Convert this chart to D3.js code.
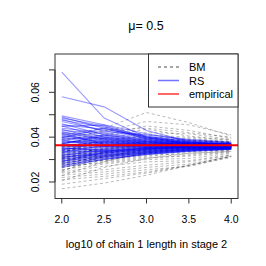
<!DOCTYPE html>
<html>
<head>
<meta charset="utf-8">
<script src="https://cdn.jsdelivr.net/npm/d3@7"></script>
<style>
  body { margin: 0; background: #fff; }
  text { font-family: "Liberation Sans", Arial, sans-serif; fill: #000; }
</style>
</head>
<body>
<div id="chart"></div>
<script>
// log10 of chain 1 length
const xs = [2.0, 2.5, 3.0, 3.5, 4.0];
const xTicks = [2.0, 2.5, 3.0, 3.5, 4.0];
const yTicks = [0.02, 0.03, 0.04, 0.05, 0.06, 0.07];
const yLabels = [0.02, 0.04, 0.06];
const empirical = 0.0364;

// estimates (x 1e-3), one row per replicate
const bmRuns = [
  [41.0, 44.0, 51.0, 46.5, 40.5], [40.0, 42.5, 47.0, 45.5, 41.0], [39.0, 41.0, 45.0, 43.0, 39.5],
  [38.0, 43.0, 44.0, 42.0, 40.0], [37.5, 39.5, 42.0, 41.5, 39.0], [37.0, 40.5, 43.5, 40.5, 38.5],
  [36.0, 38.0, 41.0, 40.0, 38.8], [35.5, 39.0, 40.0, 39.5, 38.0], [35.0, 37.0, 39.5, 38.5, 37.8],
  [34.5, 36.5, 38.5, 39.0, 37.5], [34.0, 35.5, 37.5, 38.0, 37.2], [33.5, 37.5, 38.0, 37.0, 36.8],
  [33.0, 34.5, 36.5, 37.5, 36.5], [32.5, 35.0, 37.0, 36.5, 36.2], [32.0, 33.5, 35.5, 36.0, 36.0],
  [31.5, 34.0, 36.0, 35.5, 35.8], [31.0, 32.5, 34.5, 35.8, 35.5], [30.5, 33.0, 35.0, 34.8, 35.2],
  [30.0, 31.5, 33.5, 34.5, 35.0], [29.5, 32.0, 34.0, 34.0, 34.8], [29.0, 30.5, 32.5, 33.5, 34.5],
  [28.5, 31.0, 33.0, 33.8, 34.2], [28.0, 29.5, 31.5, 33.0, 34.0], [27.5, 30.0, 32.0, 32.5, 33.8],
  [27.0, 28.5, 30.5, 32.0, 33.5], [26.5, 29.0, 31.0, 31.5, 33.2], [26.2, 31.5, 33.8, 35.6, 36.1],
  [25.5, 28.0, 30.0, 30.5, 32.8], [25.2, 30.0, 32.6, 34.2, 35.3], [24.5, 27.0, 29.0, 29.5, 32.2],
  [24.0, 25.5, 27.5, 29.0, 32.0], [31.2, 33.4, 36.4, 36.9, 37.4], [23.0, 24.5, 26.5, 28.0, 31.5],
  [29.8, 32.6, 35.4, 36.3, 36.6], [22.0, 23.5, 25.5, 27.0, 31.0], [33.8, 36.2, 37.8, 38.4, 37.9],
  [21.0, 22.5, 24.5, 27.5, 31.5], [27.8, 31.8, 33.6, 35.0, 35.7], [19.0, 21.5, 24.0, 27.2, 31.3],
  [30.6, 29.4, 32.8, 34.8, 35.9], [17.0, 19.5, 23.0, 27.5, 31.6], [30.2, 36.0, 38.0, 37.0, 36.4],
  [28.8, 34.5, 36.5, 36.8, 36.0], [26.8, 33.0, 35.5, 36.2, 35.6], [24.8, 31.5, 34.5, 35.2, 35.4],
  [22.8, 29.0, 33.5, 34.5, 34.6], [36.5, 33.0, 34.0, 35.0, 35.6], [34.8, 31.0, 33.2, 34.6, 35.4],
  [32.8, 39.5, 37.0, 37.8, 36.6], [20.5, 26.5, 30.5, 32.8, 33.6], [32.2, 34.8, 36.8, 37.2, 36.9],
  [28.2, 33.6, 34.2, 36.0, 36.3], [35.8, 37.8, 39.2, 37.6, 37.1], [31.6, 30.8, 34.6, 35.4, 35.1]
];

const rsRuns = [
  [69.0, 48.5, 40.0, 37.0, 36.0], [58.0, 53.5, 43.0, 38.0, 36.5], [49.5, 45.5, 41.5, 38.5, 37.5],
  [49.0, 44.0, 40.0, 38.0, 37.0], [48.5, 45.0, 39.0, 37.5, 36.8], [48.0, 42.5, 41.0, 39.0, 37.8],
  [47.5, 44.5, 40.5, 37.8, 36.4], [47.0, 43.0, 39.5, 38.2, 37.2], [46.0, 41.0, 38.5, 37.0, 36.6],
  [45.5, 43.5, 40.2, 38.6, 37.4], [45.0, 40.0, 38.0, 36.5, 36.2], [44.0, 42.0, 39.0, 37.2, 36.9],
  [43.5, 39.0, 37.5, 36.8, 36.0], [43.0, 41.5, 38.8, 37.6, 37.0], [42.5, 38.5, 37.0, 36.2, 35.8],
  [42.0, 40.5, 38.2, 37.4, 36.7], [41.5, 39.5, 37.8, 36.9, 36.3], [41.0, 37.5, 36.5, 36.0, 35.9],
  [40.5, 39.0, 37.2, 36.6, 36.5], [40.0, 38.0, 36.8, 36.4, 36.1], [39.5, 37.0, 36.0, 35.8, 35.6],
  [39.0, 40.0, 38.0, 37.0, 36.6], [38.5, 36.5, 35.5, 35.5, 35.4], [38.0, 37.5, 36.6, 36.2, 36.0],
  [37.5, 38.5, 37.4, 36.8, 36.4], [37.0, 36.0, 35.8, 35.9, 35.8], [36.5, 37.0, 36.2, 36.0, 36.2],
  [36.0, 35.5, 35.2, 35.4, 35.5], [35.5, 36.5, 36.0, 36.3, 36.3], [35.0, 34.5, 34.8, 35.2, 35.3],
  [34.5, 35.8, 35.6, 35.8, 35.9], [34.0, 33.5, 34.2, 34.8, 35.1], [33.5, 35.0, 35.4, 35.6, 35.7],
  [33.0, 34.0, 34.5, 35.0, 35.2], [32.5, 32.5, 33.8, 34.6, 35.0], [32.0, 33.8, 34.9, 35.5, 35.6],
  [31.5, 32.0, 33.5, 34.4, 34.9], [31.0, 33.0, 34.0, 34.9, 35.3], [30.5, 31.5, 33.0, 34.2, 34.8],
  [30.0, 32.8, 34.4, 35.3, 35.6], [29.5, 31.0, 32.8, 34.0, 34.7], [29.0, 32.2, 33.6, 34.8, 35.2],
  [28.5, 30.5, 32.5, 33.8, 34.6], [28.0, 31.8, 33.2, 34.5, 35.0], [27.5, 30.0, 32.2, 33.6, 34.5],
  [27.0, 31.2, 33.0, 34.3, 35.1], [26.5, 30.2, 32.4, 33.9, 34.7], [39.8, 44.0, 39.5, 37.6, 36.9],
  [44.8, 45.4, 39.8, 37.4, 36.7], [36.8, 41.0, 38.4, 37.2, 36.8], [33.2, 36.2, 36.4, 36.1, 36.0],
  [35.2, 34.0, 35.0, 35.7, 36.2], [37.2, 39.5, 37.6, 36.5, 36.3], [31.8, 34.6, 35.2, 35.8, 35.8],
  [38.8, 35.8, 36.2, 36.6, 36.7], [34.2, 37.8, 36.6, 36.0, 35.9], [30.8, 33.6, 35.0, 35.2, 35.4],
  [36.2, 38.2, 37.0, 36.7, 36.9], [29.2, 33.2, 34.6, 35.6, 36.1], [41.8, 36.8, 36.9, 36.4, 36.2]
];

const legendItems = [
  { label: "BM", color: "#000", dash: "3,3", opacity: 0.7, width: 1 },
  { label: "RS", color: "#0000ff", dash: null, opacity: 0.55, width: 1.5 },
  { label: "empirical", color: "#ff0000", dash: null, opacity: 0.8, width: 1.5 }
];

const width = 266, height = 266;
const pLeft = 55, pRight = 238, pTop = 54, pBottom = 198.5;

const svg = d3.select("#chart").append("svg")
  .attr("width", width)
  .attr("height", height);

const x = d3.scaleLinear().domain([1.92, 4.08]).range([pLeft, pRight]);
const y = d3.scaleLinear().domain([0.01264, 0.07708]).range([pBottom, pTop]);

svg.append("clipPath").attr("id", "clip")
  .append("rect")
  .attr("x", pLeft).attr("y", pTop)
  .attr("width", pRight - pLeft).attr("height", pBottom - pTop);

const plot = svg.append("g").attr("clip-path", "url(#clip)");

const line = d3.line()
  .x((d, i) => x(xs[i]))
  .y(d => y(d / 1000));

// BM runs, grey dashed
plot.append("g")
  .selectAll("path")
  .data(bmRuns)
  .enter().append("path")
  .attr("d", line)
  .attr("fill", "none")
  .attr("stroke", "rgba(0,0,0,0.3)")
  .attr("stroke-width", 0.9)
  .attr("stroke-dasharray", "3,2.5");

// RS runs, translucent blue
plot.append("g")
  .selectAll("path")
  .data(rsRuns)
  .enter().append("path")
  .attr("d", line)
  .attr("fill", "none")
  .attr("stroke", "rgba(0,0,255,0.4)")
  .attr("stroke-width", 1.1);

// empirical value
plot.append("line")
  .attr("x1", pLeft).attr("x2", pRight)
  .attr("y1", y(empirical)).attr("y2", y(empirical))
  .attr("stroke", "#ff0000")
  .attr("stroke-width", 2);

// frame
svg.append("rect")
  .attr("x", pLeft).attr("y", pTop)
  .attr("width", pRight - pLeft).attr("height", pBottom - pTop)
  .attr("fill", "none")
  .attr("stroke", "#333")
  .attr("stroke-width", 1);

// x axis
const xAxis = svg.append("g");
xAxis.append("line")
  .attr("x1", x(xTicks[0])).attr("x2", x(xTicks[xTicks.length - 1]))
  .attr("y1", pBottom).attr("y2", pBottom)
  .attr("stroke", "#333");
xAxis.selectAll("line.tick")
  .data(xTicks)
  .enter().append("line")
  .attr("class", "tick")
  .attr("x1", d => x(d)).attr("x2", d => x(d))
  .attr("y1", pBottom).attr("y2", pBottom + 5)
  .attr("stroke", "#333");
xAxis.selectAll("text")
  .data(xTicks)
  .enter().append("text")
  .attr("x", d => x(d))
  .attr("y", 222.5)
  .attr("text-anchor", "middle")
  .style("font-size", "10.5px")
  .text(d => d3.format(".1f")(d));

// y axis
const yAxis = svg.append("g");
yAxis.append("line")
  .attr("x1", pLeft).attr("x2", pLeft)
  .attr("y1", y(yTicks[0])).attr("y2", y(yTicks[yTicks.length - 1]))
  .attr("stroke", "#333");
yAxis.selectAll("line.tick")
  .data(yTicks)
  .enter().append("line")
  .attr("class", "tick")
  .attr("x1", pLeft - 6).attr("x2", pLeft)
  .attr("y1", d => y(d)).attr("y2", d => y(d))
  .attr("stroke", "#333");
yAxis.selectAll("text")
  .data(yLabels)
  .enter().append("text")
  .attr("transform", d => `translate(39,${y(d)}) rotate(-90)`)
  .attr("text-anchor", "middle")
  .style("font-size", "10.5px")
  .text(d => d3.format(".2f")(d));

// title and axis label
svg.append("text")
  .attr("x", 146).attr("y", 30)
  .attr("text-anchor", "middle")
  .style("font-size", "12.5px")
  .text("\u03bc= 0.5");

svg.append("text")
  .attr("x", 146.5).attr("y", 248)
  .attr("text-anchor", "middle")
  .style("font-size", "11px")
  .text("log10 of chain 1 length in stage 2");

// legend
const legend = svg.append("g");
legend.append("rect")
  .attr("x", 148.5).attr("y", pTop)
  .attr("width", pRight - 148.5).attr("height", 107 - pTop)
  .attr("fill", "#fff")
  .attr("stroke", "#333");

const rowY = d3.scalePoint().domain(legendItems.map(d => d.label)).range([67, 94]);

legend.selectAll("line")
  .data(legendItems)
  .enter().append("line")
  .attr("x1", 158).attr("x2", 179)
  .attr("y1", d => rowY(d.label)).attr("y2", d => rowY(d.label))
  .attr("stroke", d => d.color)
  .attr("stroke-opacity", d => d.opacity)
  .attr("stroke-width", d => d.width)
  .attr("stroke-dasharray", d => d.dash);

legend.selectAll("text")
  .data(legendItems)
  .enter().append("text")
  .attr("x", 189)
  .attr("y", d => rowY(d.label) + 4)
  .style("font-size", "11px")
  .text(d => d.label);
</script>
</body>
</html>
